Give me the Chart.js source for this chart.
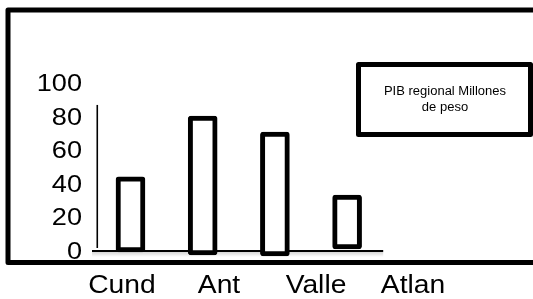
<!DOCTYPE html>
<html><head><meta charset="utf-8">
<script src="https://cdn.jsdelivr.net/npm/chart.js@4/dist/chart.umd.min.js"></script>
<style>html,body{margin:0;padding:0;background:#fff;overflow:hidden}#wrap{width:533px;height:299px;position:relative}canvas{display:block}</style>
</head><body><div id="wrap"><canvas id="c" width="533" height="299"></canvas></div>
<script>
const categories = ['Cund', 'Ant', 'Valle', 'Atlan'];
const pibValues = [44.9, 81.2, 71.6, 34.0];
const barBottoms = [0, -1.8, -2.4, 1.8];
const yTicks = [0, 20, 40, 60, 80, 100];
const legendLines = ['PIB regional Millones', 'de peso'];

const FONT = '"Liberation Sans", Arial, sans-serif';
const TEXT_STRETCH = 1.13;

// draw canvas text slightly widened, as in the reference picture
const stretchText = {
  id: 'stretchText',
  beforeDraw(chart) {
    const ctx = chart.ctx;
    if (ctx._origFillText) return;
    ctx._origFillText = ctx.fillText;
    ctx._stretch = TEXT_STRETCH;
    ctx.fillText = function (t, x, y, w) {
      this.save();
      this.translate(x, y);
      this.scale(this._stretch, 1);
      if (w === undefined) this._origFillText(t, 0, 0); else this._origFillText(t, 0, 0, w);
      this.restore();
    };
  }
};

const decor = {
  id: 'decor',
  beforeDatasetsDraw(chart) {
    const ctx = chart.ctx, x = chart.scales.x, y = chart.scales.y;
    const y0 = y.getPixelForValue(0);
    const xEnd = x.getPixelForValue(categories.length - 0.5);
    ctx.save();
    const g = ctx.createLinearGradient(0, y0, 0, y0 + 5);
    g.addColorStop(0, 'rgba(0,0,0,0.16)');
    g.addColorStop(1, 'rgba(0,0,0,0)');
    ctx.fillStyle = g;
    ctx.fillRect(chart.chartArea.left, y0, xEnd - chart.chartArea.left, 5);
    ctx.strokeStyle = '#000';
    ctx.lineWidth = 2;
    ctx.beginPath();
    ctx.moveTo(chart.chartArea.left, y0 - 1);
    ctx.lineTo(xEnd, y0 - 1);
    ctx.stroke();
    const xv = x.getPixelForValue(-0.46);
    ctx.lineWidth = 1.6;
    ctx.beginPath();
    ctx.moveTo(xv, y.getPixelForValue(87.8));
    ctx.lineTo(xv, y.getPixelForValue(2.4));
    ctx.stroke();
    ctx.restore();
  },
  afterDraw(chart) {
    const ctx = chart.ctx;
    ctx.save();
    ctx.strokeStyle = '#000';
    ctx.lineWidth = 5;
    ctx.lineJoin = 'round';
    ctx.strokeRect(8, 10, 600, 252.5);
    ctx.strokeRect(358.5, 64.5, 172, 70);
    ctx.fillStyle = '#000';
    ctx.font = '12.5px ' + FONT;
    ctx.textAlign = 'center';
    ctx.textBaseline = 'middle';
    ctx._stretch = 1.04;
    ctx.fillText(legendLines[0], 445, 92);
    ctx.fillText(legendLines[1], 445, 108);
    ctx._stretch = TEXT_STRETCH;
    ctx.restore();
  }
};

new Chart(document.getElementById('c'), {
  type: 'bar',
  data: {
    datasets: [{
      label: legendLines.join(' '),
      data: categories.map((c, i) => ({ x: i, y: [barBottoms[i], pibValues[i]] })),
      backgroundColor: '#fff',
      borderColor: '#000',
      borderWidth: 5,
      borderSkipped: false,
      borderRadius: 3,
      barThickness: 29,
      clip: false,
      xAxisID: 'x',
      yAxisID: 'y'
    }]
  },
  options: {
    responsive: false,
    animation: false,
    devicePixelRatio: 1,
    layout: { padding: { top: 84.5, right: 83, bottom: 0, left: 0 } },
    plugins: { legend: { display: false }, tooltip: { enabled: false } },
    scales: {
      x: { type: 'linear', display: false, offset: false, min: -0.533, max: 4.425 },
      x2: {
        type: 'linear', position: 'bottom', offset: false, min: -0.309, max: 3.381,
        grid: { display: false, drawTicks: false },
        border: { display: false },
        afterBuildTicks: s => { s.ticks = categories.map((c, i) => ({ value: i })); },
        afterFit: s => { s.height = 47; },
        ticks: {
          autoSkip: false, maxRotation: 0, padding: 19, color: '#000',
          font: { family: FONT, size: 25 },
          callback: v => categories[v] ?? ''
        }
      },
      y: {
        position: 'left', min: 0, max: 100,
        grid: { display: false, drawTicks: false },
        border: { display: false },
        afterBuildTicks: s => { s.ticks = yTicks.map(v => ({ value: v })); },
        afterFit: s => { s.width = 92; },
        ticks: { padding: 10, color: '#000', font: { family: FONT, size: 24 } }
      }
    }
  },
  plugins: [stretchText, decor]
});
</script></body></html>
